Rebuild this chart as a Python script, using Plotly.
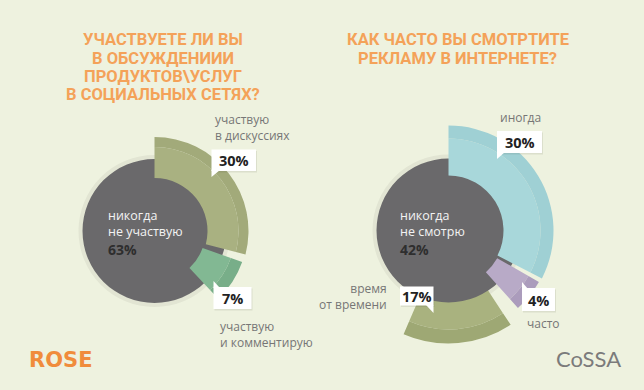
import plotly.graph_objects as go

W, H = 644, 390

# ---------------- data ----------------
q1_title = ["УЧАСТВУЕТЕ ЛИ ВЫ", "В ОБСУЖДЕНИИИ", "ПРОДУКТОВ\\УСЛУГ", "В СОЦИАЛЬНЫХ СЕТЯХ?"]
q1_labels = [["участвую", "в дискуссиях"], ["участвую", "и комментирую"], ["никогда", "не участвую"]]
q1_values = [30, 7, 63]

q2_title = ["КАК ЧАСТО ВЫ СМОТРТИТЕ", "РЕКЛАМУ В ИНТЕРНЕТЕ?"]
q2_labels = [["иногда"], ["часто"], ["время", "от времени"], ["никогда", "не смотрю"]]
q2_values = [30, 4, 17, 42]

# ---------------- style ----------------
BG = "#eef2df"
GRAY = "#6a696b"
ORANGE = "#f4a259"
LABEL = "#767676"

# per coloured slice: base, mid, outer radius (px), inner colour, band colour, angle shift, trim
q1_style = [
    dict(base=53, mid=84, outer=94, c1="#a9b181", c2="#a2aa7a", shift=0, trim=3.5),
    dict(base=51, mid=81, outer=93, c1="#82b893", c2="#78ae89", shift=1.5, trim=-2),
]
q2_style = [
    dict(base=55, mid=92, outer=105, c1="#a8d7da", c2="#9fd0d4", shift=0, trim=-1),
    dict(base=56, mid=92, outer=104, c1="#b8aac7", c2="#ab9cbc", shift=3.5, trim=-3),
    dict(base=60, mid=99, outer=113, c1="#a9b27f", c2="#9ea874", shift=15, trim=9),
]
GRAY_R = 72


def px(x, y):
    return x / W, 1 - y / H


def dom(cx, cy, R=120):
    return dict(x=[(cx - R) / W, (cx + R) / W], y=[(H - cy - R) / H, (H - cy + R) / H])


fig = go.Figure()


def add_bar(subplot, theta, width, base, top, color):
    fig.add_trace(go.Barpolar(
        r=[top - base], base=[base], theta=[theta], width=[width],
        marker=dict(color=color, line=dict(width=0)),
        subplot=subplot, hoverinfo="skip", showlegend=False,
    ))


def draw_pie(subplot, values, styles, under=()):
    scale = 360.0 / sum(values)
    geo = []
    start = 0.0
    for v, st in zip(values[:-1], styles):
        w = v * scale - st["trim"]
        c = start + st["shift"] + w / 2
        geo.append((c, w, st))
        start += v * scale
    # soft shadow ring
    add_bar(subplot, 0, 360, GRAY_R - 1, GRAY_R + 4, "rgba(70,70,50,0.07)")
    # slices drawn under the gray disc
    for i, (c, w, st) in enumerate(geo):
        if i in under:
            add_bar(subplot, c, w, st["base"], st["mid"], st["c1"])
            add_bar(subplot, c, w, st["mid"], st["outer"], st["c2"])
    add_bar(subplot, 0, 360, 0, GRAY_R, GRAY)
    for i, (c, w, st) in enumerate(geo):
        if i not in under:
            add_bar(subplot, c, w, st["base"], st["mid"], st["c1"])
            add_bar(subplot, c, w, st["mid"], st["outer"], st["c2"])


draw_pie("polar", q1_values, q1_style)
draw_pie("polar2", q2_values, q2_style, under=(2,))

axis_common = dict(
    angularaxis=dict(rotation=90, direction="clockwise", visible=False),
    radialaxis=dict(range=[0, 120], visible=False),
    bgcolor="rgba(0,0,0,0)",
)

annotations = []
shapes = []


def text(x, y, s, size, color, anchor="left", family="Open Sans", bold=False):
    xx, yy = px(x, y)
    annotations.append(dict(
        x=xx, y=yy, xref="paper", yref="paper", xanchor=anchor, yanchor="middle",
        align=anchor if anchor != "center" else "center",
        text=f"<b>{s}</b>" if bold else s, showarrow=False,
        font=dict(size=size, color=color, family=family),
    ))


def block(x, y, rows, size, color, anchor="left"):
    text(x, y, "<br>".join(rows), size, color, anchor)


def lines(x, y0, dy, rows, size, color, anchor="left", bold=False, family="Open Sans"):
    for i, r in enumerate(rows):
        text(x, y0 + i * dy, r, size, color, anchor, family, bold)


def callout(x0, y0, x1, y1, tail, label):
    a = px(x0, y0)
    b = px(x1, y1)
    shapes.append(dict(type="rect", xref="paper", yref="paper",
                       x0=a[0] + 1 / W, x1=b[0] + 1 / W, y0=a[1] - 1.5 / H, y1=b[1] - 1.5 / H,
                       fillcolor="rgba(60,60,40,0.10)", line=dict(width=0), layer="above"))
    shapes.append(dict(type="rect", xref="paper", yref="paper",
                       x0=a[0], x1=b[0], y0=a[1], y1=b[1],
                       fillcolor="white", line=dict(width=0), layer="above"))
    pts = [px(*p) for p in tail]
    path = "M {} {} L {} {} L {} {} Z".format(pts[0][0], pts[0][1], pts[1][0], pts[1][1], pts[2][0], pts[2][1])
    shapes.append(dict(type="path", xref="paper", yref="paper", path=path,
                       fillcolor="white", line=dict(width=0), layer="above"))
    text((x0 + x1) / 2, (y0 + y1) / 2 + 0.5, label, 14.5, "#222222", "center", "Open Sans", True)


def center_label(x, y, rows, pct):
    block(x, y - 8.5, rows, 12.5, "#f3f3f3")
    text(x, y + 17.5, f"{pct}%", 14, "#2e2e2e", bold=True)


# titles
lines(163, 40, 18.2, q1_title, 16.5, ORANGE, "center", True, "Roboto")
lines(458, 40, 18.5, q2_title, 16.5, ORANGE, "center", True, "Roboto")

# left pie texts
center_label(106, 232, q1_labels[2], q1_values[2])
block(213, 127.5, q1_labels[0], 12, LABEL)
callout(211.5, 149.5, 256, 171, [(211.5, 170), (211.5, 177), (220, 170)], f"{q1_values[0]}%")
callout(213.5, 287, 251.5, 309, [(213.5, 281), (213.5, 288), (220, 288)], f"{q1_values[1]}%")
block(218, 334, q1_labels[1], 12, LABEL)

# right pie texts
center_label(398, 232, q2_labels[3], q2_values[3])
block(498, 117, q2_labels[0], 12, LABEL)
callout(497, 131, 542, 153, [(497, 152), (497, 159), (505, 152)], f"{q2_values[0]}%")
callout(522, 288, 555, 311, [(522, 282), (522, 289), (528, 289)], f"{q2_values[1]}%")
block(525, 323, q2_labels[1], 12, LABEL)
callout(400, 286.5, 433.5, 305.5, [(426, 305), (433.5, 305), (433.5, 313)], f"{q2_values[2]}%")
block(389, 296.5, q2_labels[2], 12, LABEL, "right")

# logos
text(27, 360, "ROSE", 21, "#f08c3c", "left", "DejaVu Sans", True)
text(588, 358, "CoSSA", 22, "#7b7b7b", "center", "Lato")

fig.update_layout(
    width=W, height=H, margin=dict(l=0, r=0, t=0, b=0),
    paper_bgcolor=BG, plot_bgcolor=BG, showlegend=False,
    polar=dict(domain=dom(154.5, 231), **axis_common),
    polar2=dict(domain=dom(448.5, 230.5), **axis_common),
    annotations=annotations, shapes=shapes,
)

fig.write_html("out.html", config={"displayModeBar": False},
               post_script="document.body.style.margin='0';document.body.style.background='" + BG + "';")
